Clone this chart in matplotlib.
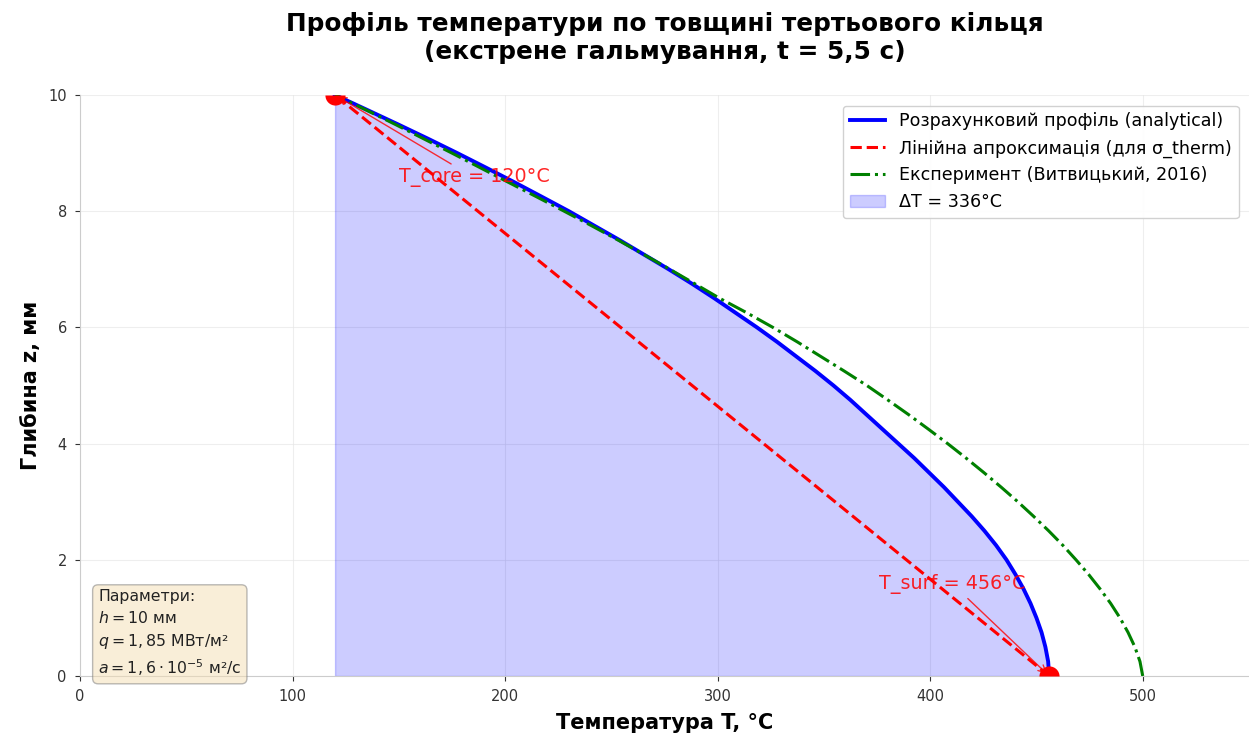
import matplotlib
matplotlib.use("Agg")
import matplotlib.pyplot as plt

# ---- data ----
z_mm = [0.0, 0.25, 0.5, 0.75, 1.0, 1.25, 1.5, 1.75, 2.0, 2.25, 2.5, 2.75, 3.0, 3.25, 3.5, 3.75,
        4.0, 4.25, 4.5, 4.75, 5.0, 5.25, 5.5, 5.75, 6.0, 6.25, 6.5, 6.75, 7.0, 7.25, 7.5, 7.75,
        8.0, 8.25, 8.5, 8.75, 9.0, 9.25, 9.5, 9.75, 10.0]
T_analytical = [456.0, 455.5, 454.2, 452.4, 450.0, 447.2, 443.9, 440.1, 435.9, 431.0, 425.5, 419.5,
                413.0, 406.5, 399.5, 392.5, 385.0, 377.5, 370.0, 362.5, 354.5, 346.0, 337.0, 328.0,
                318.5, 308.5, 298.5, 288.0, 277.0, 265.5, 254.0, 242.0, 230.0, 217.2, 204.3, 191.0,
                177.5, 163.6, 149.3, 134.7, 120.0]
T_experiment = [500.0, 498.7, 496.3, 493.1, 489.3, 484.9, 479.9, 474.5, 468.6, 462.4, 455.7, 448.6,
                441.2, 433.4, 425.3, 416.9, 408.2, 399.1, 389.8, 380.1, 370.2, 359.5, 348.5, 337.5,
                326.0, 313.8, 301.0, 289.3, 277.5, 265.5, 253.3, 240.7, 227.8, 214.7, 201.4, 188.2,
                175.0, 161.5, 148.0, 134.2, 120.0]
T_core = 120
T_surf = 456
h_mm = 10
z_linear = [0, 10]
T_linear = [T_surf, T_core]
delta_T = T_surf - T_core

x_ticks = [0, 100, 200, 300, 400, 500]
y_ticks = [0, 2, 4, 6, 8, 10]

fig = plt.figure(figsize=(12.49, 7.38), dpi=100)
ax = fig.add_axes([80 / 1249, 62 / 738, 1169 / 1249, 581 / 738])

ax.plot(T_analytical, z_mm, color='blue', lw=2.8, label='Розрахунковий профіль (analytical)', zorder=3)
ax.plot(T_linear, z_linear, color='red', ls='--', lw=2.2, label='Лінійна апроксимація (для σ_therm)', zorder=3)
ax.plot(T_experiment, z_mm, color='green', ls='-.', lw=2.2, label='Експеримент (Витвицький, 2016)', zorder=3)
ax.fill_betweenx(z_mm, T_core, T_analytical, color='blue', alpha=0.2, label=f'ΔT = {delta_T}°C', zorder=1)

# end-point markers: only the half inside the axes is visible (as at the axes edge in the reference)
ax.plot([T_core], [h_mm], marker='o', ms=14.5, color='red', fillstyle='bottom',
        markerfacecoloralt='none', markeredgewidth=0, ls='none', zorder=5)
ax.plot([T_surf], [0], marker='o', ms=14.5, color='red', fillstyle='top',
        markerfacecoloralt='none', markeredgewidth=0, ls='none', zorder=5)

ax.annotate(f'T_core = {T_core}°C', xy=(T_core, h_mm), xytext=(T_core + 30, h_mm - 1.5),
            color='red', fontsize=13.8, alpha=0.85,
            arrowprops=dict(arrowstyle='->', color='red', lw=1, alpha=0.8))
ax.annotate(f'T_surf = {T_surf}°C', xy=(T_surf, 0), xytext=(T_surf - 80, 1.5),
            color='red', fontsize=13.8, alpha=0.85,
            arrowprops=dict(arrowstyle='->', color='red', lw=1, alpha=0.8))

ax.text(0.0155, -0.004, 'Параметри:\n$h = 10$ мм\n$q = 1,85$ МВт/м²\n$a = 1,6\\cdot10^{-5}$ м²/с',
        transform=ax.transAxes, fontsize=11.3, va='bottom', ha='left', color='#222222',
        linespacing=1.42,
        bbox=dict(boxstyle='round,pad=0.35', facecolor='wheat', edgecolor='#777777', alpha=0.5),
        zorder=6)

ax.set_xlim(0, 550)
ax.set_ylim(0, 10)
ax.set_xticks(x_ticks)
ax.set_yticks(y_ticks)
ax.tick_params(labelsize=10.5, colors='#333333', length=3.5, pad=6)
for s in ['top', 'right']:
    ax.spines[s].set_visible(False)
for s in ['left', 'bottom']:
    ax.spines[s].set_color('#cccccc')
ax.grid(True, color='#e4e4e4', lw=0.8, alpha=0.6)
ax.set_axisbelow(True)

ax.set_xlabel('Температура T, °C', fontsize=15, fontweight='bold', labelpad=6)
ax.set_ylabel('Глибина z, мм', fontsize=15, fontweight='bold', labelpad=5)
ax.set_title('Профіль температури по товщині тертьового кільця\n(екстрене гальмування, t = 5,5 с)',
             fontsize=17.8, fontweight='bold', pad=26)

leg = ax.legend(loc='upper right', fontsize=12.6, framealpha=0.9, borderaxespad=0.6)
leg.get_frame().set_edgecolor('#cccccc')

fig.savefig('out.png', dpi=100)
